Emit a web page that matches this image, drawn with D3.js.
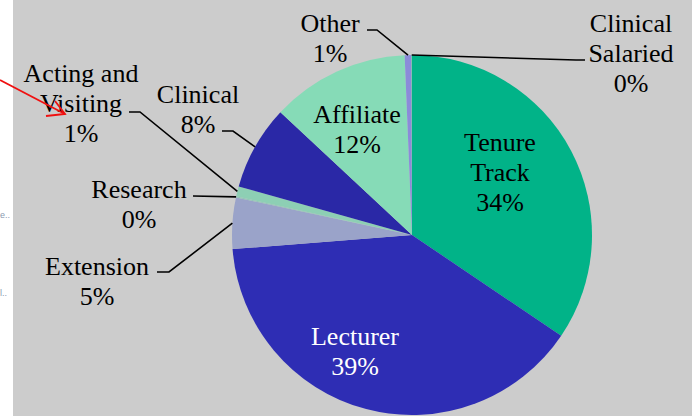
<!DOCTYPE html>
<html>
<head>
<meta charset="utf-8">
<script src="https://cdn.jsdelivr.net/npm/d3@7"></script>
<style>
  body { margin: 0; background: #fff; }
  svg { display: block; }
</style>
</head>
<body>
<script>
// appointment types, clockwise from 12 o'clock
const categories = ['Tenure Track', 'Lecturer', 'Extension', 'Research', 'Acting and Visiting',
  'Clinical', 'Affiliate', 'Other', 'Clinical Salaried'];
const shares = [34.45, 39.3, 4.6, 0.1, 0.9, 7.6, 12.4, 0.6, 0.05];
const colors = ['#01b388', '#2e2db4', '#9aa3c9', '#93c4b8', '#8dcfb4',
  '#2a28a6', '#86dbb7', '#8b8bd9', '#6fbfa0'];

const width = 692;
const height = 416;
const cx = 412, cy = 235, radius = 180;

// label layout: centre x, first baseline, and where the leader leaves the text
const labelLayout = {
  'Tenure Track': { x: 500, y: 151, lines: ['Tenure', 'Track'] },
  'Lecturer': { x: 355, y: 345, fill: '#fff' },
  'Affiliate': { x: 357, y: 123 },
  'Extension': { x: 97, y: 275, leader: [[157, 272], [169, 272]] },
  'Research': { x: 139, y: 198, leader: [[193, 196]] },
  'Acting and Visiting': { x: 81, y: 82, lines: ['Acting and', 'Visiting'], leader: [[129, 112], [140, 112]] },
  'Clinical': { x: 198, y: 103, leader: [[222, 131], [233, 131]] },
  'Other': { x: 330, y: 32, leader: [[367, 30], [377, 30]] },
  'Clinical Salaried': { x: 631, y: 32, lines: ['Clinical', 'Salaried'], leader: [[585, 60], [576, 60]] }
};

const data = categories.map((c, i) => ({ name: c, value: shares[i], color: colors[i] }));
const total = d3.sum(shares);
const pct = v => Math.round(v / total * 100) + '%';

const svg = d3.select('body').append('svg')
  .attr('width', width)
  .attr('height', height);

// page strip on the left and grey chart area
svg.append('rect').attr('x', 13).attr('y', 0).attr('width', width - 13).attr('height', height).attr('fill', '#cccccc');
svg.append('g').attr('fill', '#8a9ab0')
  .selectAll('text').data([['e..', 218], ['l..', 296]]).join('text')
  .style('font-family', '"Liberation Sans"').style('font-size', '9px')
  .attr('x', 0).attr('y', d => d[1]).text(d => d[0]);

const pie = d3.pie().sort(null).value(d => d.value);
const arc = d3.arc().innerRadius(0).outerRadius(radius);
const arcs = pie(data);

const g = svg.append('g').attr('transform', `translate(${cx},${cy})`);
g.selectAll('path')
  .data(arcs)
  .join('path')
    .attr('d', arc)
    .attr('fill', d => d.data.color);

// leader lines
const edge = d => {
  const a = (d.startAngle + d.endAngle) / 2;
  return [cx + radius * Math.sin(a), cy - radius * Math.cos(a)];
};
svg.append('g')
  .attr('fill', 'none')
  .attr('stroke', '#000')
  .attr('stroke-width', 1.6)
  .selectAll('path')
  .data(arcs.filter(d => labelLayout[d.data.name].leader))
  .join('path')
    .attr('d', d => d3.line()([...labelLayout[d.data.name].leader, edge(d)]));

// labels
const labels = svg.append('g')
  .selectAll('text')
  .data(arcs)
  .join('text')
    .attr('text-anchor', 'middle')
    .style('font-family', '"Liberation Serif"')
    .style('font-size', '26px')
    .attr('fill', d => labelLayout[d.data.name].fill || '#000');

labels.each(function(d) {
  const lay = labelLayout[d.data.name];
  const lines = (lay.lines || [d.data.name]).concat(pct(d.data.value));
  d3.select(this).selectAll('tspan')
    .data(lines)
    .join('tspan')
      .attr('x', lay.x)
      .attr('y', (t, i) => lay.y + i * 30)
      .text(t => t);
});

// red annotation arrow
const arrow = svg.append('g').attr('stroke', '#f01010').attr('stroke-width', 1.8).attr('fill', 'none');
arrow.append('path').attr('d', d3.line()([[0, 80], [65, 114]]));
arrow.append('path').attr('d', d3.line()([[55, 101], [65, 114], [46, 116]]));
</script>
</body>
</html>
